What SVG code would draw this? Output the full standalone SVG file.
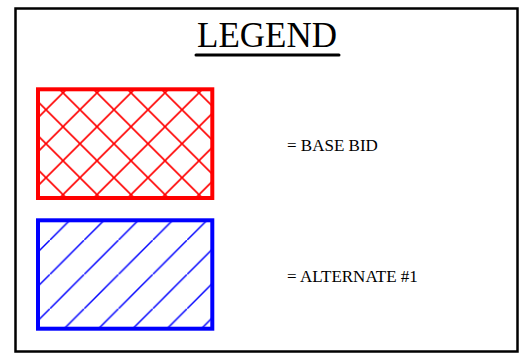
<svg xmlns="http://www.w3.org/2000/svg" width="523" height="359" viewBox="0 0 523 359">
<style>
.t{font-family:"Liberation Serif","Times New Roman",serif;fill:#000}
</style>
<defs>
<pattern id="cross" patternUnits="userSpaceOnUse" x="29" y="24.7" width="34" height="34">
<path d="M-1,-1 L35,35 M35,-1 L-1,35" stroke="#ff0000" stroke-width="1.6" fill="none"/>
</pattern>
<pattern id="diag" patternUnits="userSpaceOnUse" x="15.6" y="0" width="34.3" height="34.3">
<path d="M-1,35.3 L35.3,-1" stroke="#0000ff" stroke-width="1.5" fill="none"/>
</pattern>
</defs>
<rect x="15.5" y="8.5" width="502" height="343" fill="#fff" stroke="#000" stroke-width="2.5"/>
<g id="title">
<text class="t" x="267" y="46.7" font-size="35" text-anchor="middle">LEGEND</text>
<line x1="196" y1="55" x2="339" y2="55" stroke="#000" stroke-width="3" stroke-linecap="round"/>
</g>
<g id="base-bid">
<rect x="38" y="89.3" width="174.3" height="108.7" fill="url(#cross)" stroke="#ff0000" stroke-width="4"/>
<text class="t" x="287" y="150.7" font-size="17">= BASE BID</text>
</g>
<g id="alternate-1">
<rect x="38" y="220.3" width="174.3" height="108.4" fill="url(#diag)" stroke="#0000ff" stroke-width="4"/>
<text class="t" x="287" y="282" font-size="17">= ALTERNATE #1</text>
</g>
<g id="connectors"/>
</svg>
